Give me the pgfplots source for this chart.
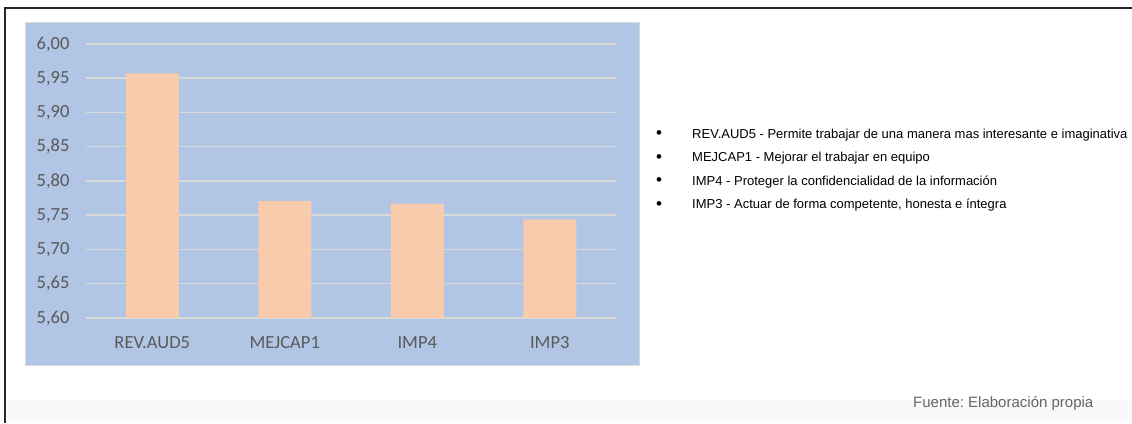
\documentclass[border=0pt]{standalone}
\usepackage{pgfplots}
\pgfplotsset{compat=1.18}
\usepackage{fontspec}
\setmainfont{Liberation Sans}
\newfontfamily\calibri{Carlito}
\definecolor{chartblue}{HTML}{B1C5E5}
\definecolor{barpeach}{HTML}{F8CBAD}
\definecolor{gridgray}{HTML}{D9D9D9}
\definecolor{labgray}{HTML}{595959}
\begin{document}
\frenchspacing
\begin{tikzpicture}[x=1pt,y=1pt]
\useasboundingbox (0,0) rectangle (1132,423);
\fill[white] (0,0) rectangle (1132,423);
\fill[black!2.5] (7,0) rectangle (1132,23);
\draw[line width=2pt, black!85] (5,0) -- (5,415) -- (1132,415);
\filldraw[fill=chartblue, draw=gridgray, line width=1pt] (25,57) rectangle (639,400);
\begin{axis}[
  at={(86pt,105pt)}, anchor=south west,
  scale only axis, width=530pt, height=274pt,
  xmin=-0.5, xmax=3.5, ymin=5.6, ymax=6.0,
  ytick distance=0.05,
  xtick={0,1,2,3},
  xticklabels={REV.AUD5,MEJCAP1,IMP4,IMP3},
  axis line style={draw=none},
  major tick length=0pt,
  ymajorgrids, grid style={gridgray, line width=1.5pt},
  /pgf/number format/.cd, fixed, fixed zerofill, precision=2, use comma, assume math mode=true,
  /pgfplots/.cd,
  yticklabel style={font=\calibri\fontsize{18.5}{20}\selectfont, text=labgray, xshift=-13pt},
  xticklabel style={font=\calibri\fontsize{18.5}{20}\selectfont, text=labgray, yshift=-15pt},
  clip=false,
]
\addplot[ybar, bar width=53pt, bar shift=0pt, fill=barpeach, draw=none]
  coordinates {(0,5.957) (1,5.771) (2,5.767) (3,5.744)};
\end{axis}
\begin{scope}[every node/.style={font=\fontsize{13}{15}\selectfont, inner sep=0pt}]
\node[anchor=center, font=\fontsize{17}{19}\selectfont] at (659,288) {\textbullet};
\node[anchor=center, font=\fontsize{17}{19}\selectfont] at (659,264.5) {\textbullet};
\node[anchor=center, font=\fontsize{17}{19}\selectfont] at (659,241) {\textbullet};
\node[anchor=center, font=\fontsize{17}{19}\selectfont] at (659,217.5) {\textbullet};
\node[anchor=west] at (692,288) {REV.AUD5 - Permite trabajar de una manera mas interesante e imaginativa};
\node[anchor=west] at (692,264.5) {MEJCAP1 - Mejorar el trabajar en equipo};
\node[anchor=west] at (692,241) {IMP4 - Proteger la confidencialidad de la información};
\node[anchor=west] at (692,217.5) {IMP3 - Actuar de forma competente, honesta e íntegra};
\end{scope}
\node[anchor=west, inner sep=0pt, text=black!60, font=\fontsize{15}{17}\selectfont] at (913,19) {Fuente: Elaboración propia};
\end{tikzpicture}
\end{document}
